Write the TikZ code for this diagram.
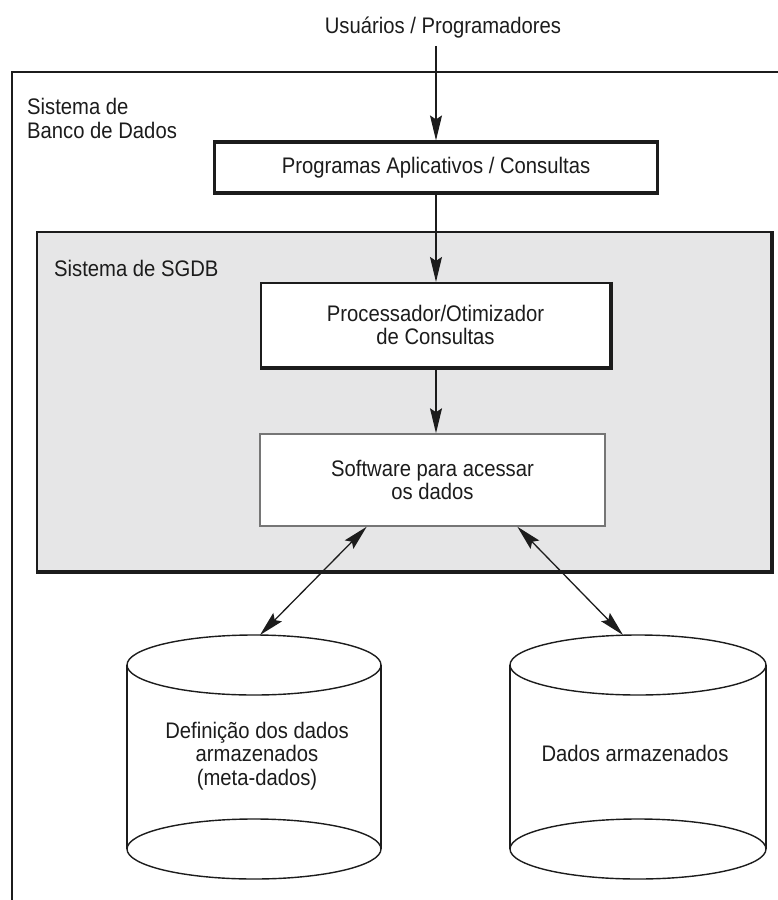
\documentclass[tikz,border=0pt]{standalone}
\usepackage{fontspec}
\setmainfont{Liberation Sans}[FakeStretch=0.9]
\usetikzlibrary{arrows.meta,calc}
\definecolor{ink}{RGB}{28,28,28}
\definecolor{panel}{RGB}{230,230,231}
\definecolor{softedge}{RGB}{118,118,118}
\begin{document}
\begin{tikzpicture}[x=1pt,y=-1pt,
  txt/.style={font=\fontsize{22.5}{23.5}\selectfont, text=ink, inner sep=0pt, align=center},
  flow/.style={draw=ink, line width=1.3pt, -{Stealth[length=25pt,width=12pt,inset=4pt]}},
  twoway/.style={draw=ink, line width=1.3pt, {Stealth[length=25pt,width=12pt,inset=4pt]}-{Stealth[length=25pt,width=12pt,inset=4pt]}},
  heavy/.style={txt, draw=ink, fill=white},
  store/.style={draw=ink, line width=1.4pt}]
\useasboundingbox (0,0) rectangle (778,900);

% outer system frame (runs off the page to the right and bottom)
\draw[ink, line width=2.8pt] (778,72) -- (12,72) -- (12,900);
\node[txt, align=left, anchor=north west] (bdlabel) at (27,98) {Sistema de\\Banco de Dados};

% users on top
\node[txt, anchor=base] (users) at (443,33) {Usuários / Programadores};

% application layer
\node[heavy, line width=3.2pt, minimum width=443pt, minimum height=51pt] (apps) at (436,167.5) {Programas Aplicativos / Consultas};

% DBMS panel with heavier lower/right edges
\node[draw=ink, line width=2pt, fill=panel, minimum width=734pt, minimum height=339pt] (sgdb) at (404,401.5) {};
\draw[ink, line width=3.6pt] (sgdb.north east) -- (sgdb.south east) -- (sgdb.south west);
\node[txt, anchor=north west] (sgdblabel) at (54,260) {Sistema de SGDB};

\node[heavy, line width=2.2pt, minimum width=349pt, minimum height=84pt] (proc) at (435.5,325) {Processador/Otimizador\\de Consultas};
\draw[ink, line width=3.4pt] (proc.north east) -- (proc.south east) -- (proc.south west);

\node[txt, draw=softedge, line width=1.5pt, fill=white, minimum width=345pt, minimum height=92pt] (soft) at (432.5,480) {Software para acessar\\os dados};

% vertical flow
\draw[flow, shorten <=8pt] (users.south -| apps.north) -- (apps.north);
\draw[flow] (apps.south) -- (apps.south |- proc.north);
\draw[flow] (apps.south |- proc.south) -- (apps.south |- soft.north);

% stored data cylinders
\draw[store] (254,665) ellipse [x radius=127pt, y radius=30pt];
\draw[store] (254,849) ellipse [x radius=127pt, y radius=30pt];
\draw[store] (127,665) -- (127,849) (381,665) -- (381,849);
\node[txt] (metatext) at (257,756) {Definição dos dados\\armazenados\\(meta-dados)};
\coordinate (metaTop) at (260,635);

\draw[store] (638,665) ellipse [x radius=128pt, y radius=30pt];
\draw[store] (638,849) ellipse [x radius=128pt, y radius=30pt];
\draw[store] (510,665) -- (510,849) (766,665) -- (766,849);
\node[txt] (datatext) at (635,753) {Dados armazenados};
\coordinate (dataTop) at (623,635);

% two-way access to the stores
\draw[twoway] ($(soft.south west)!0.31!(soft.south east)$) -- (metaTop);
\draw[twoway] ($(soft.south west)!0.745!(soft.south east)$) -- (dataTop);
\end{tikzpicture}
\end{document}
